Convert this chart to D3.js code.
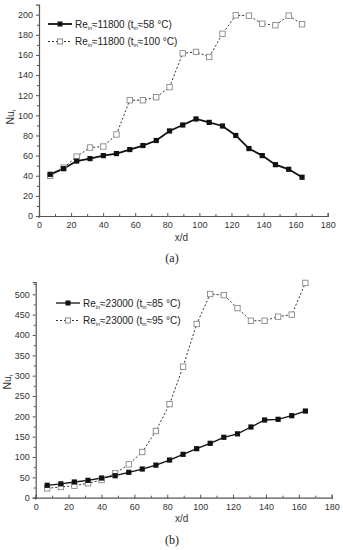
<!DOCTYPE html>
<html><head><meta charset="utf-8">
<script src="https://cdn.jsdelivr.net/npm/d3@7"></script>
<style>body{margin:0;background:#fff}svg{display:block}text{font-family:"Liberation Sans",Arial,sans-serif}</style>
</head><body>
<script>
const xd = [7, 15.3, 23.5, 31.8, 40.1, 48.3, 56.6, 64.8, 73.1, 81.4, 89.6, 97.9, 106.1, 114.4, 122.7, 130.9, 139.2, 147.4, 155.7, 164];
const aSolid = [41.4, 47, 54.6, 57, 60, 62, 66, 70, 75, 84.5, 90.4, 96.4, 93, 89.4, 80, 67, 60, 51, 46.4, 38.5];
const aDashed = [40, 48, 59, 68, 69, 81, 115, 115, 118, 128, 161.6, 163, 158, 181, 199.4, 199, 191, 189.5, 199, 190.5];
const bSolid = [30.5, 34, 38.6, 42.7, 48.4, 54, 62.4, 70.5, 80, 92.6, 106.6, 120.5, 133.7, 148.5, 157, 173.8, 191, 192.7, 201.6, 213];
const bDashed = [23, 26.3, 29.5, 35.4, 43.5, 60, 82, 112.3, 164, 230, 322, 427, 500.7, 498, 466, 435, 435, 445, 450, 528];
const xTicks = [0, 20, 40, 60, 80, 100, 120, 140, 160, 180];
const aYTicks = [0, 20, 40, 60, 80, 100, 120, 140, 160, 180, 200];
const bYTicks = [0, 50, 100, 150, 200, 250, 300, 350, 400, 450, 500];
const aLegend = [["11800", "58"], ["11800", "100"]];
const bLegend = [["23000", "85"], ["23000", "95"]];

const svg = d3.select("body").append("svg").attr("width", 343).attr("height", 550);
const axisColor = "#555";

function panel(cfg) {
  const x = d3.scaleLinear().domain([0, 180]).range(cfg.xr);
  const y = d3.scaleLinear().domain([0, cfg.ymax]).range(cfg.yr);
  const g = svg.append("g");
  const xMinor = d3.range(10, 180, 20);
  const yMinor = d3.range(cfg.yMinorStep, cfg.ymax, cfg.yMinorStep * 2);
  const xa = g.append("g").attr("transform", `translate(0,${cfg.yr[0]})`)
    .call(d3.axisBottom(x).tickValues(xTicks).tickSize(-3).tickPadding(6).tickFormat(d3.format("d")));
  xa.selectAll(".tick line").attr("y2", -3).attr("y1", 1);
  g.append("g").attr("transform", `translate(0,${cfg.yr[0]})`)
    .call(d3.axisBottom(x).tickValues(xMinor).tickSize(-2).tickFormat(""))
    .call(s => s.select(".domain").remove());
  g.append("g").attr("transform", `translate(${cfg.xr[0]},0)`)
    .call(d3.axisLeft(y).tickValues(cfg.yTicks).tickSize(3).tickPadding(3).tickFormat(d3.format("d")));
  g.append("g").attr("transform", `translate(${cfg.xr[0]},0)`)
    .call(d3.axisLeft(y).tickValues(yMinor).tickSize(2).tickFormat(""))
    .call(s => s.select(".domain").remove());
  g.selectAll(".domain").attr("stroke", axisColor).attr("stroke-width", 1.2);
  g.selectAll(".tick line").attr("stroke", axisColor);
  g.selectAll(".tick text").attr("fill", "#333").style("font-size", "9px");
  g.append("line").attr("x1", cfg.xr[0]).attr("x2", cfg.xr[0]).attr("y1", cfg.yr[0]).attr("y2", cfg.yr[0] + 2).attr("stroke", axisColor);

  const line = d3.line().x((d, i) => x(xd[i])).y(d => y(d));
  g.append("path").datum(cfg.dashed).attr("d", line).attr("fill", "none")
    .attr("stroke", "#333").attr("stroke-width", 1).attr("stroke-dasharray", "2,2");
  g.append("path").datum(cfg.solid).attr("d", line).attr("fill", "none")
    .attr("stroke", "#111").attr("stroke-width", cfg.solidW);
  g.selectAll(".od").data(cfg.dashed).join("rect")
    .attr("x", (d, i) => x(xd[i]) - 2.7).attr("y", d => y(d) - 2.7)
    .attr("width", 5.4).attr("height", 5.4).attr("fill", "#fff").attr("stroke", "#888").attr("stroke-width", 0.9);
  g.selectAll(".fd").data(cfg.solid).join("rect")
    .attr("x", (d, i) => x(xd[i]) - 2.6).attr("y", d => y(d) - 2.6)
    .attr("width", 5.2).attr("height", 5.2).attr("fill", "#111");

  g.append("text").attr("x", (cfg.xr[0] + cfg.xr[1]) / 2 - 2).attr("y", cfg.xlabY)
    .attr("text-anchor", "middle").attr("fill", "#333").style("font-size", "10px").text("x/d");
  const yl = g.append("text").attr("transform", `translate(${cfg.ylabX},${cfg.ylabY}) rotate(-90)`)
    .attr("text-anchor", "middle").attr("fill", "#333").style("font-size", "10.5px");
  yl.append("tspan").text("Nu");
  yl.append("tspan").attr("dy", 2).style("font-size", "6px").text("t");
  g.append("text").attr("x", 172).attr("y", cfg.capY).attr("text-anchor", "middle")
    .style("font-family", "'Liberation Serif','Times New Roman',serif").style("font-size", "12px").attr("fill", "#222").text(cfg.cap);

  cfg.legend.forEach((L, i) => {
    const ly = cfg.legY + i * 17.5;
    const lx = cfg.legX;
    if (i === 0) {
      g.append("line").attr("x1", lx).attr("x2", lx + 24).attr("y1", ly).attr("y2", ly).attr("stroke", "#111").attr("stroke-width", cfg.solidW);
      g.append("rect").attr("x", lx + 9.5).attr("y", ly - 2.5).attr("width", 5).attr("height", 5).attr("fill", "#111");
    } else {
      g.append("line").attr("x1", lx).attr("x2", lx + 24).attr("y1", ly).attr("y2", ly).attr("stroke", "#333").attr("stroke-dasharray", "2,2");
      g.append("rect").attr("x", lx + 9.5).attr("y", ly - 2.5).attr("width", 5).attr("height", 5).attr("fill", "#fff").attr("stroke", "#888");
    }
    const t = g.append("text").attr("x", lx + 27).attr("y", ly + 3.5).attr("fill", "#222").style("font-size", "10px");
    t.append("tspan").text("Re");
    t.append("tspan").attr("dy", 2).style("font-size", "5.5px").text("in");
    t.append("tspan").attr("dy", -2).text("\u2248" + L[0] + " (t");
    t.append("tspan").attr("dy", 2).style("font-size", "5.5px").text("in");
    t.append("tspan").attr("dy", -2).text("\u2248" + L[1] + " \u00B0C)");
  });
}

panel({xr: [39, 327.7], yr: [216, 4.6], ymax: 210, yTicks: aYTicks, yMinorStep: 10,
  solid: aSolid, dashed: aDashed, solidW: 1.8, xlabY: 241, ylabX: 14, ylabY: 117, capY: 262, cap: "(a)",
  legend: aLegend, legX: 48, legY: 24});
panel({xr: [35.7, 331.7], yr: [497.7, 282.1], ymax: 530, yTicks: bYTicks, yMinorStep: 25,
  solid: bSolid, dashed: bDashed, solidW: 1.3, xlabY: 522, ylabX: 11, ylabY: 382, capY: 544, cap: "(b)",
  legend: bLegend, legX: 56, legY: 303});
</script>
</body></html>
